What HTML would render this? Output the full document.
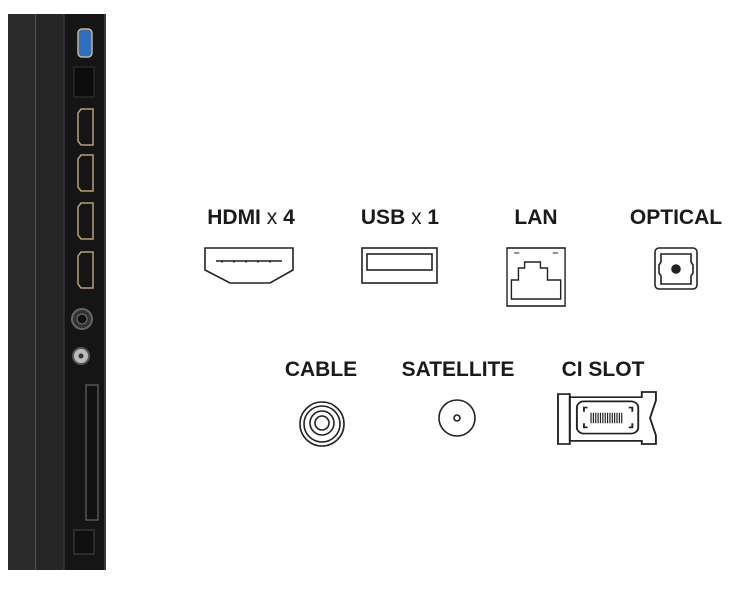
<!DOCTYPE html>
<html><head><meta charset="utf-8"><style>
body{margin:0;background:#fff;width:730px;height:584px;overflow:hidden}
text{font-family:"Liberation Sans",Arial,sans-serif;font-weight:bold;font-size:21px;fill:#1a1a1a;text-anchor:middle}
</style></head><body>
<svg width="730" height="584" viewBox="0 0 730 584" xmlns="http://www.w3.org/2000/svg">
<!-- panel -->
<rect x="8" y="14" width="98" height="556" fill="#232323"/>
<rect x="8" y="14" width="27" height="556" fill="#2b2b2b"/>
<rect x="36" y="14" width="28" height="556" fill="#262626"/>
<rect x="64" y="14" width="40" height="556" fill="#151515"/>
<line x1="35.5" y1="14" x2="35.5" y2="570" stroke="#555" stroke-width="1"/>
<line x1="64" y1="14" x2="64" y2="570" stroke="#444" stroke-width="1"/>
<rect x="104" y="14" width="2" height="556" fill="#3a3a3a"/>
<rect x="78" y="29" width="14" height="28" rx="4" fill="#2e6fc0" stroke="#c8b48a" stroke-width="1.5"/>
<rect x="74" y="67" width="20" height="30" fill="#0c0c0c" stroke="#333"/>
<g fill="none" stroke="#b5a077" stroke-width="1.5">
<path d="M81 109 h12 v36 h-12 l-3-4 v-28z"/>
<path d="M81 155 h12 v36 h-12 l-3-4 v-28z"/>
<path d="M81 203 h12 v36 h-12 l-3-4 v-28z"/>
<path d="M81 252 h12 v36 h-12 l-3-4 v-28z"/>
</g>
<circle cx="82" cy="319" r="10" fill="#333" stroke="#666" stroke-width="2"/>
<circle cx="82" cy="319" r="5" fill="#111" stroke="#777"/>
<circle cx="81" cy="356" r="8" fill="#bbb" stroke="#555" stroke-width="2"/>
<circle cx="81" cy="356" r="2.5" fill="#333"/>
<rect x="86" y="385" width="12" height="135" fill="#111" stroke="#555" stroke-width="1.5"/>
<rect x="74" y="530" width="20" height="24" fill="#0f0f0f" stroke="#444"/>
<!-- labels -->
<text x="251" y="224">HDMI <tspan font-weight="normal">x</tspan> 4</text>
<text x="400" y="224">USB <tspan font-weight="normal">x</tspan> 1</text>
<text x="536" y="224">LAN</text>
<text x="676" y="224">OPTICAL</text>
<text x="321" y="376">CABLE</text>
<text x="458" y="376">SATELLITE</text>
<text x="603" y="376">CI SLOT</text>
<g fill="none" stroke="#222" stroke-width="1.6">
<path d="M205 248 H293 V270 L270 283 H230 L205 270Z"/>
<line x1="216" y1="261" x2="282" y2="261"/>
<rect x="362" y="248" width="75" height="35"/>
<rect x="367" y="254" width="65" height="16"/>
<g transform="translate(507,248) scale(0.88,1) translate(-498,-248)">
<rect x="498" y="248" width="66" height="58"/>
<path d="M503 299 V280 H511 V268 H518 V262 H536 V268 H544 V280 H559 V299Z"/>
<path d="M506 253 h6 M550 253 h6" stroke-width="1"/>
</g>
<g transform="translate(14,0)">
<rect x="641" y="248" width="42" height="41" rx="4"/>
<path d="M647 254 H677 V262 L679 265 V273 L677 276 V284 H647 V276 L645 273 V265 L647 262Z"/>
<circle cx="662" cy="269" r="4" fill="#222"/>
</g>
<circle cx="322" cy="424" r="22"/>
<circle cx="322" cy="424" r="18"/>
<circle cx="322" cy="423" r="12"/>
<circle cx="322" cy="423" r="7"/>
<circle cx="457" cy="418" r="18"/>
<circle cx="457" cy="418" r="3"/>
<g transform="translate(558,392) scale(1.18,1.04) translate(-549,-392)">
<rect x="549" y="394" width="10" height="48"/>
<path d="M559 397 H620 V392 H632 V400 L627 417 L632 434 V442 H620 V439 H559Z"/>
<rect x="565" y="401" width="52" height="31" rx="6"/>
<path d="M574 407 h-3 v4 M609 407 h3 v4 M574 426 h-3 v-4 M609 426 h3 v-4"/>
<path stroke-width="1" d="M577 412 v10 M579 412 v10 M581 412 v10 M583 412 v10 M585 412 v10 M587 412 v10 M589 412 v10 M591 412 v10 M593 412 v10 M595 412 v10 M597 412 v10 M599 412 v10 M601 412 v10 M603 412 v10"/>
</g>
</g>
<path stroke="#222" stroke-width="1" d="M222 260 v3 M234 260 v3 M246 260 v3 M258 260 v3 M270 260 v3"/>
</svg>
</body></html>
